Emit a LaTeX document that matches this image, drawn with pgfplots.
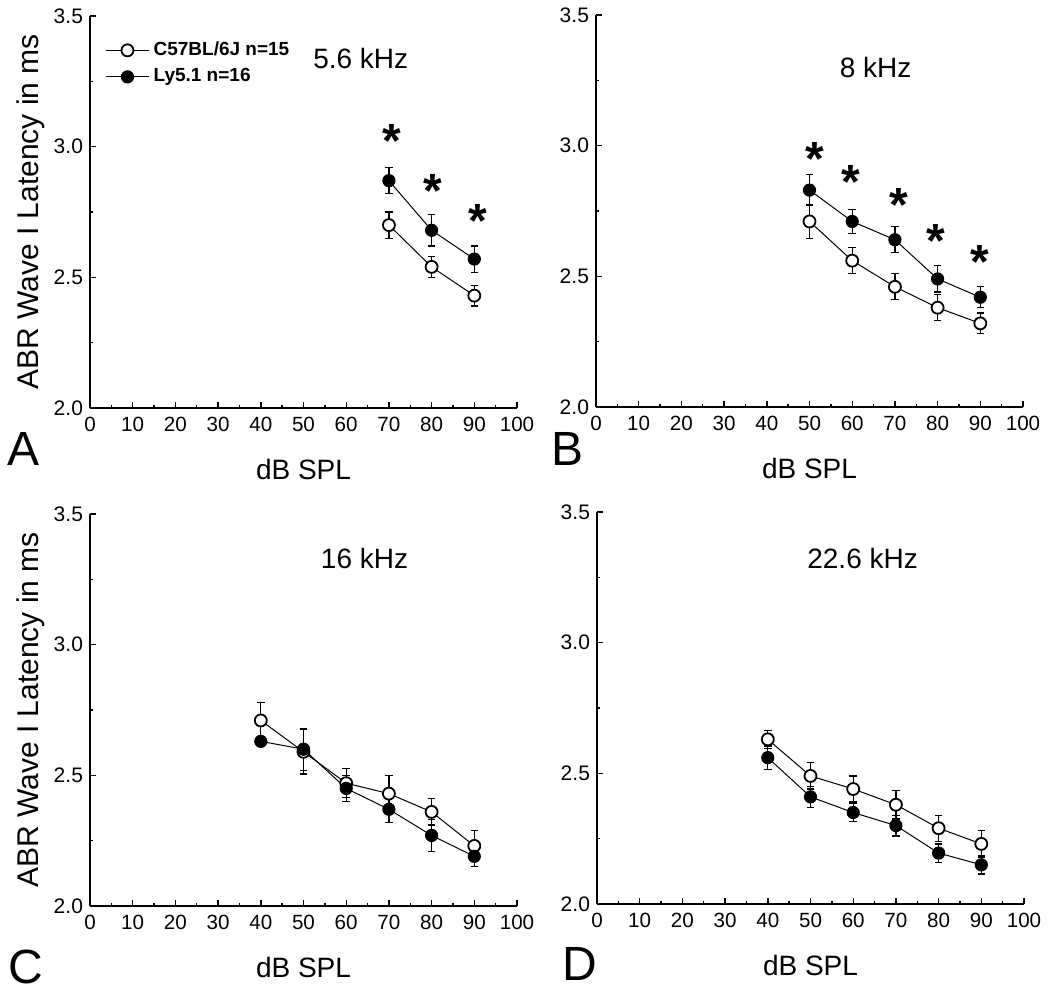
\documentclass[border=0pt]{standalone}
\usepackage{fontspec}
\setmainfont{Liberation Sans}
\usepackage{pgfplots}
\pgfplotsset{compat=1.18}

\tikzset{
  ttl/.style={font=\fontsize{14}{16}\selectfont, anchor=center},
  letter/.style={font=\fontsize{24}{28}\selectfont, anchor=center},
}
\pgfplotsset{
  abr/.style={
    scale only axis, width=213.5pt, height=196pt,
    xmin=0, xmax=100, ymin=2, ymax=3.5,
    axis x line*=bottom, axis y line*=left,
    axis line style={line width=0.9pt},
    xtick={0,10,...,100}, minor x tick num=1,
    ytick={2,2.5,3,3.5}, minor y tick num=1,
    tick align=inside,
    major tick length=3pt, minor tick length=1.6pt,
    tick style={line width=0.7pt, black},
    /pgf/number format/assume math mode=true,
    yticklabel style={/pgf/number format/fixed, /pgf/number format/fixed zerofill, /pgf/number format/precision=1, font=\fontsize{10.5}{11}\selectfont},
    xticklabel style={font=\fontsize{10.3}{11}\selectfont, yshift=-1pt},
    xlabel={dB SPL},
    xlabel style={at={(axis description cs:0.5,-0.157)}, anchor=center, font=\fontsize{14}{16}\selectfont},
    clip=false,
  },
  ylab/.style={
    ylabel={ABR Wave I Latency in ms},
    ylabel style={at={(axis description cs:-0.138,0.5)}, anchor=center, font=\fontsize{15}{17}\selectfont},
  },
  open/.style={black, line width=0.5pt, mark=*, mark size=3pt,
    mark options={fill=white, line width=0.9pt, solid},
    error bars/y dir=both, error bars/y explicit,
    error bars/error bar style={line width=0.6pt, black},
    error bars/error mark options={rotate=90, mark size=1.9pt, line width=0.6pt, black}},
  filled/.style={black, line width=0.5pt, mark=*, mark size=3pt,
    mark options={fill=black, line width=0.6pt, solid},
    error bars/y dir=both, error bars/y explicit,
    error bars/error bar style={line width=0.6pt, black},
    error bars/error mark options={rotate=90, mark size=1.9pt, line width=0.6pt, black}},
  stars/.style={draw=none, mark=none, nodes near coords={*},
    every node near coord/.append style={anchor=center, yshift=-4.5pt, font=\bfseries\fontsize{24}{26}\selectfont}},
}

\begin{document}
\begin{tikzpicture}
\path[use as bounding box] (0,0) rectangle (525pt,496.5pt);

% Panel A
\begin{axis}[abr, ylab, at={(45pt,292.5pt)}, anchor=south west,
  legend style={at={(axis description cs:0.035,0.945)}, anchor=north west, draw=none, fill=none,
    font=\bfseries\fontsize{9.5}{10.5}\selectfont, row sep=1pt, inner sep=0pt},
  legend cell align=left,
  legend image code/.code={\draw[mark repeat=2,mark phase=2] plot coordinates {(0cm,0cm) (0.38cm,0cm) (0.76cm,0cm)};}]
\addplot[open] coordinates {(70,2.70) +- (0,0.05) (80,2.54) +- (0,0.04) (90,2.43) +- (0,0.04)};
\addlegendentry{C57BL/6J n=15}
\addplot[filled] coordinates {(70,2.87) +- (0,0.05) (80,2.68) +- (0,0.06) (90,2.57) +- (0,0.05)};
\addlegendentry{Ly5.1 n=16}
\addplot[stars, forget plot] coordinates {(70.7,3.057) (80.3,2.864) (90.9,2.749)};
\node[ttl] at (axis cs:63.4,3.338) {5.6 kHz};
\node[letter] at (axis description cs:-0.155,-0.105) {A};
\end{axis}

% Panel B
\begin{axis}[abr, at={(298pt,293pt)}, anchor=south west]
\addplot[open] coordinates {(50,2.71) +- (0,0.065) (60,2.56) +- (0,0.05) (70,2.46) +- (0,0.05) (80,2.38) +- (0,0.05) (90,2.32) +- (0,0.04)};
\addplot[filled] coordinates {(50,2.83) +- (0,0.06) (60,2.71) +- (0,0.045) (70,2.64) +- (0,0.05) (80,2.49) +- (0,0.05) (90,2.42) +- (0,0.04)};
\addplot[stars] coordinates {(51.2,2.982) (59.6,2.896) (70.9,2.809) (79.7,2.668) (90.0,2.588)};
\node[ttl] at (axis cs:65.5,3.30) {8 kHz};
\node[letter] at (axis description cs:-0.066,-0.107) {B};
\end{axis}

% Panel C
\begin{axis}[abr, ylab, at={(45pt,43.5pt)}, anchor=south west]
\addplot[open] coordinates {(40,2.71) +- (0,0.07) (50,2.59) +- (0,0.085) (60,2.47) +- (0,0.055) (70,2.43) +- (0,0.07) (80,2.36) +- (0,0.05) (90,2.23) +- (0,0.06)};
\addplot[filled] coordinates {(40,2.63) +- (0,0.02) (50,2.60) +- (0,0.08) (60,2.45) +- (0,0.05) (70,2.37) +- (0,0.05) (80,2.27) +- (0,0.06) (90,2.19) +- (0,0.04)};
\node[ttl] at (axis cs:64.3,3.329) {16 kHz};
\node[letter] at (axis description cs:-0.150,-0.156) {C};
\end{axis}

% Panel D
\begin{axis}[abr, at={(298.5pt,44.5pt)}, anchor=south west]
\addplot[open] coordinates {(40,2.63) +- (0,0.035) (50,2.49) +- (0,0.05) (60,2.44) +- (0,0.05) (70,2.38) +- (0,0.055) (80,2.29) +- (0,0.05) (90,2.23) +- (0,0.05)};
\addplot[filled] coordinates {(40,2.56) +- (0,0.045) (50,2.41) +- (0,0.04) (60,2.35) +- (0,0.035) (70,2.30) +- (0,0.04) (80,2.195) +- (0,0.035) (90,2.15) +- (0,0.035)};
\node[ttl] at (axis cs:62.2,3.324) {22.6 kHz};
\node[letter] at (axis description cs:-0.040,-0.152) {D};
\end{axis}
\end{tikzpicture}
\end{document}
